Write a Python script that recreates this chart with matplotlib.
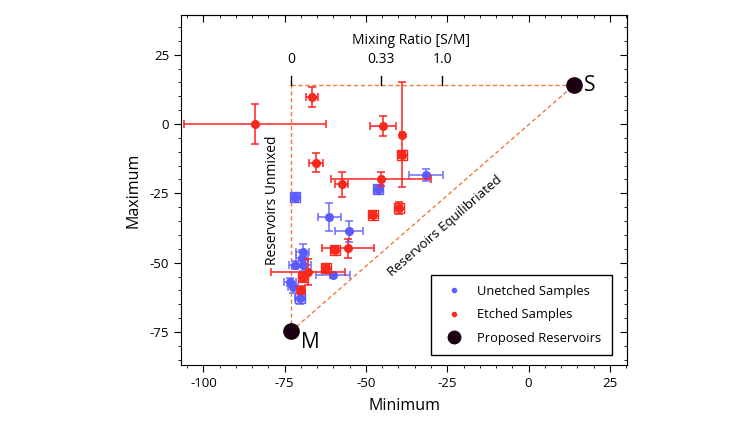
import matplotlib
matplotlib.use("Agg")
import matplotlib.pyplot as plt
from matplotlib.ticker import MultipleLocator
from matplotlib.lines import Line2D

plt.rcParams['font.family'] = ['Open Sans', 'DejaVu Sans']
plt.rcParams['axes.unicode_minus'] = False

# unetched samples (blue)
ux     = [-71.8, -46.3, -31.5, -61.3, -55.2, -69.4, -69.7, -71.8, -73.4, -72.5, -70.3, -60.2, -69.4]
uy     = [-26.4, -23.5, -18.4, -33.6, -38.6, -46.2, -48.4, -50.9, -57.0, -58.8, -62.8, -54.5, -50.9]
uxerr  = [1.2, 1.2, 5.2, 3.5, 4.3, 2.0, 1.8, 1.8, 1.8, 1.5, 1.5, 5.3, 2.5]
uyerr  = [1.2, 1.2, 2.2, 5.0, 3.8, 3.0, 3.0, 1.5, 1.5, 2.0, 2.0, 1.0, 2.0]
uboxed = [1, 1, 0, 0, 0, 0, 0, 0, 0, 0, 1, 0, 0]

# etched samples (red)
ex     = [-84.2, -66.6, -65.4, -44.8, -38.9, -38.9, -57.4, -45.4, -39.8, -47.8, -55.5, -59.5, -67.8, -62.3, -69.4, -70.0]
ey     = [0.0, 9.7, -13.9, -0.7, -3.8, -11.2, -21.7, -19.9, -30.3, -32.9, -44.8, -45.5, -53.4, -52.0, -55.2, -59.9]
exerr  = [21.8, 1.8, 2.1, 4.0, 0.6, 1.0, 2.0, 15.4, 1.0, 1.0, 8.0, 1.0, 11.4, 1.0, 1.0, 1.2]
eyerr  = [7.2, 3.6, 3.4, 3.6, 19.0, 1.0, 4.5, 2.5, 2.0, 1.0, 3.4, 1.0, 4.7, 1.5, 1.5, 1.5]
eboxed = [0, 0, 0, 0, 0, 1, 0, 0, 1, 1, 0, 1, 0, 1, 1, 0]

# proposed reservoirs
rx     = [-73.0, 14.0]
ry     = [-74.7, 14.0]
rnames = ['M', 'S']

# mixing ratio scale along the top line
mix_labels = ['0', '0.33', '1.0']
mix_x      = [-73.0, -45.5, -26.5]

blue  = '#5a5aff'
red   = '#f8281a'
dash  = '#f07a3c'
black = '#1a0010'

fig = plt.figure(figsize=(7.52, 4.23), dpi=100)
ax = fig.add_axes([0.2407, 0.1371, 0.5931, 0.8274])

# dashed reservoir lines
(mx, sx), (my, sy) = rx, ry
ax.plot([mx, mx], [my, sy], ls='--', color=dash, lw=1, dashes=(3, 2), zorder=1)
ax.plot([mx, sx], [sy, sy], ls='--', color=dash, lw=1, dashes=(3, 2), zorder=1)
ax.plot([mx, sx], [my, sy], ls='--', color=dash, lw=1, dashes=(3, 2), zorder=1)

# mixing ratio ticks
for lbl, xv in zip(mix_labels, mix_x):
    ax.plot([xv, xv], [sy, sy + 3.2], color='black', lw=1, zorder=2)
    ax.text(xv, sy + 6.5, lbl, ha='center', va='bottom', fontsize=10)
ax.text(-36.2, sy + 13.5, 'Mixing Ratio [S/M]', ha='center', va='bottom', fontsize=10)

# samples
ax.errorbar(ux, uy, xerr=uxerr, yerr=uyerr, fmt='o', color=blue, ecolor='#6c6cff',
            ms=5.5, elinewidth=1.1, capsize=3, capthick=1.1, zorder=3)
ax.errorbar(ex, ey, xerr=exerr, yerr=eyerr, fmt='o', color=red, ecolor='#ff2020',
            ms=5.5, elinewidth=1.1, capsize=3, capthick=1.1, zorder=4)
for xv, yv, b in zip(ux, uy, uboxed):
    if b:
        ax.plot(xv, yv, 's', ms=7.5, mfc='none', mec=blue, mew=1.0, zorder=3)
for xv, yv, b in zip(ex, ey, eboxed):
    if b:
        ax.plot(xv, yv, 's', ms=7, mfc='none', mec=red, mew=1.0, zorder=4)

# reservoirs
ax.plot(rx, ry, 'o', color=black, ms=11, zorder=5)
ax.text(mx + 3, my - 4, rnames[0], fontsize=15, ha='left', va='center')
ax.text(sx + 3, sy, rnames[1], fontsize=15, ha='left', va='center')

ax.text(-78.9, -27.4, 'Reservoirs Unmixed', rotation=90, ha='center', va='center', fontsize=10)
ax.text(-25.7, -36.8, 'Reservoirs Equilibriated', rotation=41, ha='center', va='center',
        fontsize=9.5, rotation_mode='anchor')

ax.set_xlim(-106.9, 30.3)
ax.set_ylim(-86.9, 39.3)
ax.xaxis.set_major_locator(MultipleLocator(25))
ax.xaxis.set_minor_locator(MultipleLocator(5))
ax.yaxis.set_major_locator(MultipleLocator(25))
ax.yaxis.set_minor_locator(MultipleLocator(5))
ax.tick_params(which='both', direction='out', labelsize=9.5)
ax.tick_params(which='major', length=5)
ax.tick_params(which='minor', length=2.5)
ax.set_xlabel('Minimum', fontsize=11.5, labelpad=6)
ax.set_ylabel('Maximum', fontsize=11.5, labelpad=6)

# mirrored inward ticks on top/right
axt = ax.secondary_xaxis('top')
axt.xaxis.set_major_locator(MultipleLocator(25))
axt.xaxis.set_minor_locator(MultipleLocator(5))
axt.tick_params(which='both', direction='in', labeltop=False)
axt.tick_params(which='major', length=5)
axt.tick_params(which='minor', length=2.5)
axr = ax.secondary_yaxis('right')
axr.yaxis.set_major_locator(MultipleLocator(25))
axr.yaxis.set_minor_locator(MultipleLocator(5))
axr.tick_params(which='both', direction='in', labelright=False)
axr.tick_params(which='major', length=5)
axr.tick_params(which='minor', length=2.5)

handles = [
    Line2D([0], [0], marker='o', color='w', markerfacecolor=blue, markersize=5, label='Unetched Samples'),
    Line2D([0], [0], marker='o', color='w', markerfacecolor=red, markersize=5, label='Etched Samples'),
    Line2D([0], [0], marker='o', color='w', markerfacecolor=black, markersize=11, label='Proposed Reservoirs'),
]
leg = ax.legend(handles=handles, loc='lower right', fontsize=9.3, fancybox=False,
                edgecolor='black', framealpha=1, borderpad=0.8, labelspacing=0.8,
                borderaxespad=0, bbox_to_anchor=(0.966, 0.029))
leg.get_frame().set_linewidth(1.0)

plt.savefig('out.png', dpi=100)
